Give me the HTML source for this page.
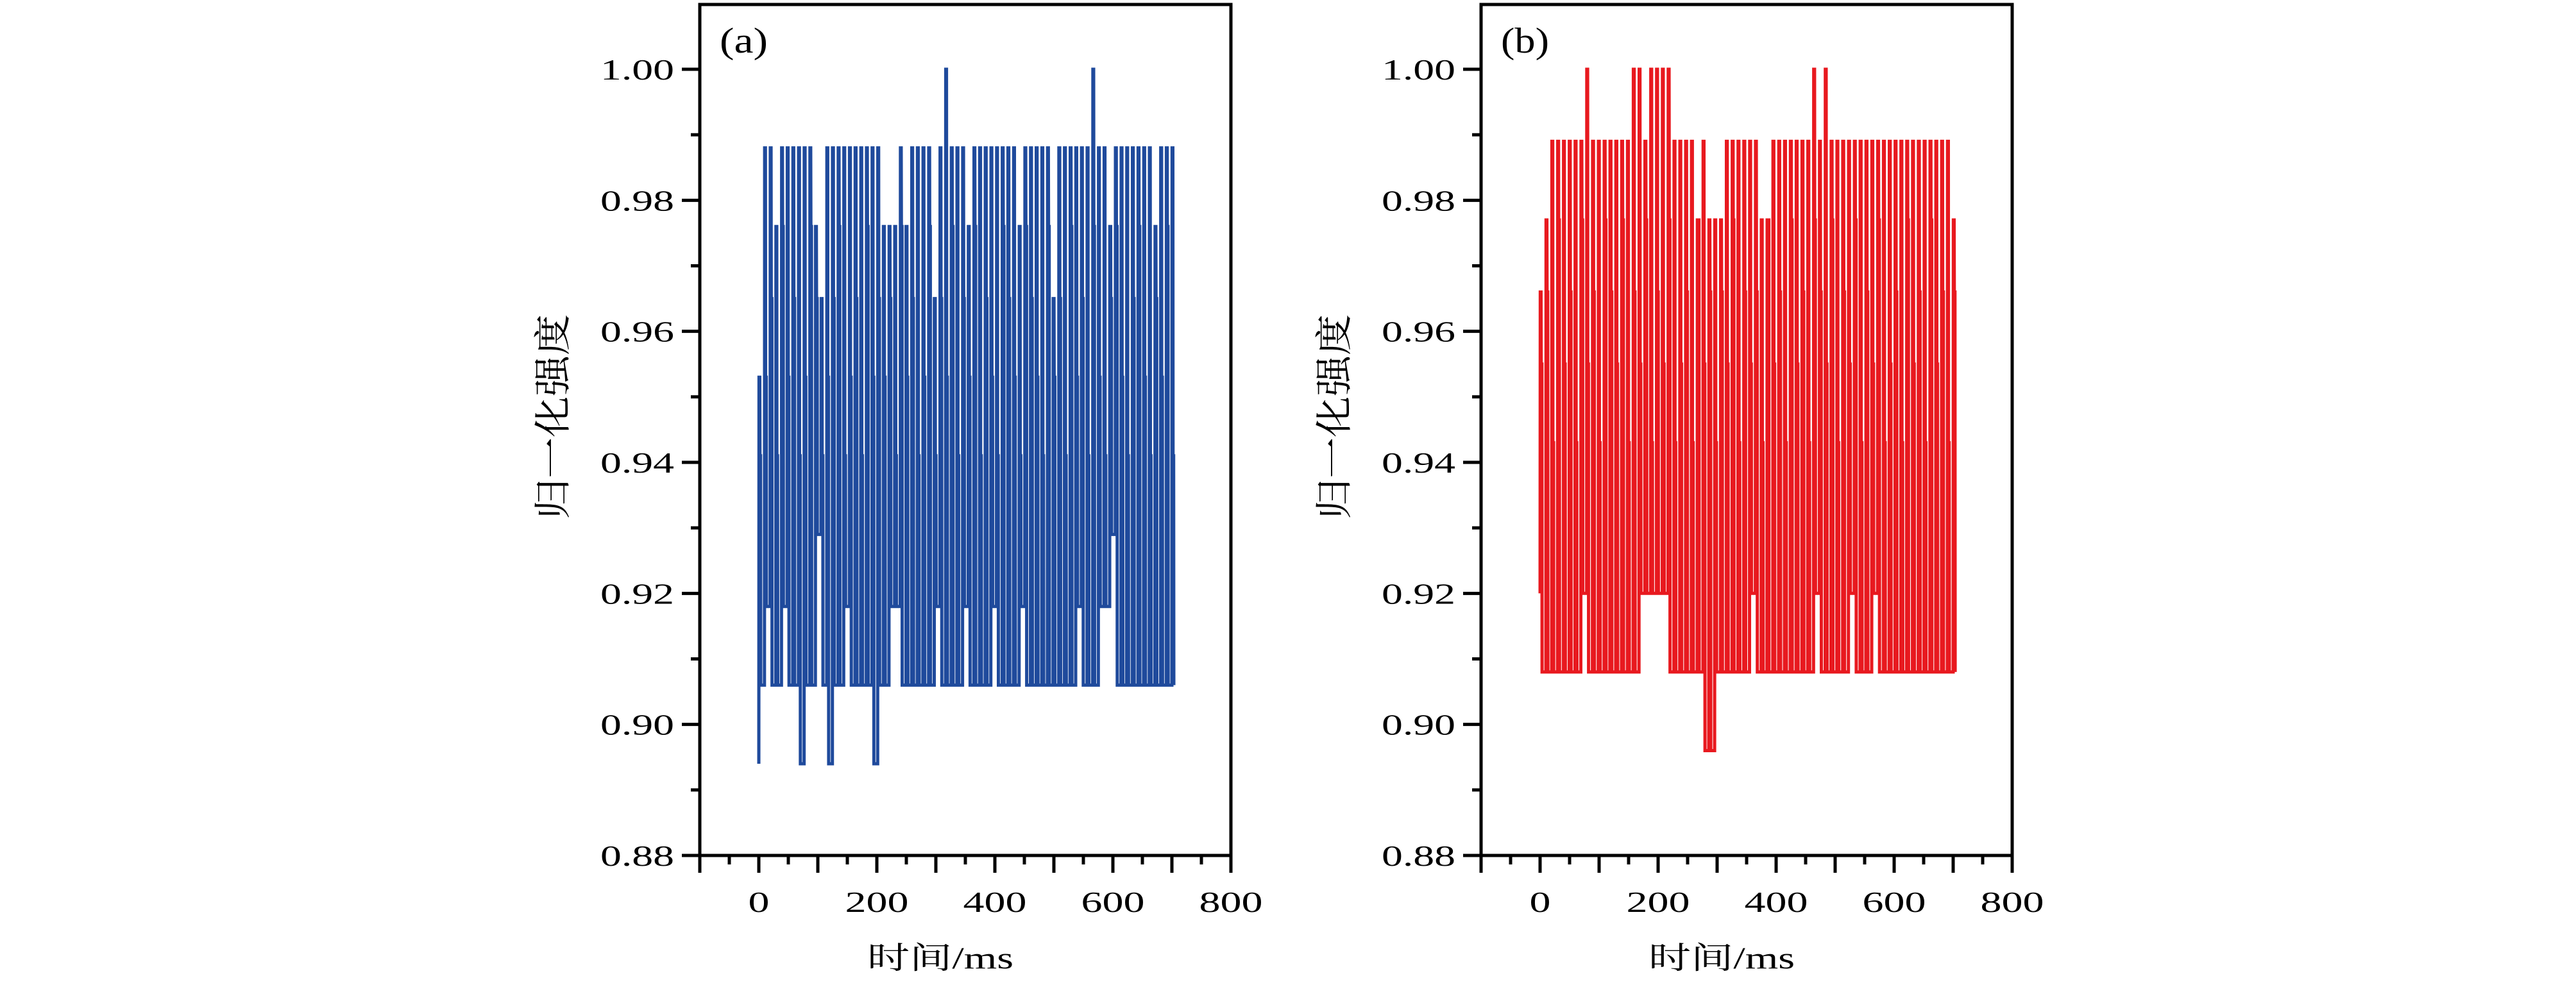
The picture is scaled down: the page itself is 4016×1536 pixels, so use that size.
<!DOCTYPE html>
<html><head><meta charset="utf-8"><style>
html,body{margin:0;padding:0;background:#fff;}
svg{display:block;}
text{font-family:"Liberation Serif","Noto Serif CJK SC",serif;fill:#000;}
</style></head><body>
<svg id="chart" width="4016" height="1536" viewBox="0 0 4016 1536" xmlns="http://www.w3.org/2000/svg"></svg>
<script>
const xTicks = [-100,0,100,200,300,400,500,600,700,800];
const xTickLabels = ["0","200","400","600","800"];
const xTickLabelVals = [0,200,400,600,800];
const yTicks = [0.88,0.90,0.92,0.94,0.96,0.98,1.00];
const yTickLabels = ["0.88","0.90","0.92","0.94","0.96","0.98","1.00"];
const peaksA = [0.953,0.988,0.988,0.976,0.988,0.988,0.988,0.988,0.988,0.988,0.976,
 0.965,0.988,0.988,0.988,0.988,0.988,0.988,0.988,0.988,0.988,0.988,
 0.976,0.976,0.976,0.988,0.976,0.988,0.988,0.988,0.988,0.965,0.988,
 1.000,0.988,0.988,0.988,0.976,0.988,0.988,0.988,0.988,0.988,0.988,
 0.988,0.988,0.976,0.988,0.988,0.988,0.988,0.988,0.965,0.988,0.988,
 0.988,0.988,0.988,0.988,1.000,0.988,0.988,0.976,0.988,0.988,0.988,
 0.988,0.988,0.988,0.988,0.976,0.988,0.988,0.988];
const midsA = [0.941,0.953,0.965,0.941,0.976,0.953,0.965,0.941,0.953,0.976,0.965,
 0.941,0.953,0.965,0.976,0.941,0.953,0.965,0.941,0.976,0.953,0.965,
 0.953,0.965,0.941,0.976,0.953,0.965,0.941,0.953,0.976,0.941,0.965,
 0.953,0.976,0.941,0.965,0.953,0.976,0.941,0.965,0.953,0.941,0.976,
 0.965,0.953,0.941,0.976,0.965,0.953,0.941,0.976,0.953,0.965,0.941,
 0.976,0.953,0.965,0.941,0.976,0.953,0.941,0.965,0.976,0.953,0.941,
 0.965,0.976,0.953,0.941,0.965,0.953,0.976,0.941];
const troughsA = [0.894,0.906,0.918,0.906,0.906,0.918,0.906,0.906,0.894,0.906,0.906,
 0.929,0.906,0.894,0.906,0.906,0.918,0.906,0.906,0.906,0.906,0.894,
 0.906,0.906,0.918,0.918,0.906,0.906,0.906,0.906,0.906,0.906,0.918,
 0.906,0.906,0.906,0.906,0.918,0.906,0.906,0.906,0.906,0.918,0.906,
 0.906,0.906,0.906,0.918,0.906,0.906,0.906,0.906,0.906,0.906,0.906,
 0.906,0.906,0.918,0.906,0.906,0.906,0.918,0.918,0.929,0.906,0.906,
 0.906,0.906,0.906,0.906,0.906,0.906,0.906,0.906];
const peaksB = [0.966,0.977,0.989,0.989,0.989,0.989,0.989,0.989,1.000,0.989,0.989,0.989,
 0.989,0.989,0.989,0.989,1.000,1.000,0.989,1.000,1.000,1.000,1.000,0.989,
 0.989,0.989,0.989,0.977,0.989,0.977,0.977,0.977,0.989,0.989,0.989,0.989,
 0.989,0.989,0.977,0.977,0.989,0.989,0.989,0.989,0.989,0.989,0.989,1.000,
 0.989,1.000,0.989,0.989,0.989,0.989,0.989,0.989,0.989,0.989,0.989,0.989,
 0.989,0.989,0.989,0.989,0.989,0.989,0.989,0.989,0.989,0.989,0.989,0.977];
const midsB = [0.955,0.966,0.943,0.977,0.955,0.966,0.943,0.977,0.955,0.966,0.943,0.977,
 0.966,0.955,0.977,0.943,0.966,0.955,0.977,0.943,0.966,0.955,0.977,0.943,
 0.955,0.966,0.943,0.977,0.955,0.966,0.943,0.966,0.955,0.977,0.943,0.966,
 0.955,0.966,0.943,0.977,0.955,0.966,0.943,0.977,0.955,0.966,0.943,0.977,
 0.966,0.955,0.977,0.943,0.966,0.955,0.977,0.943,0.966,0.955,0.977,0.943,
 0.955,0.966,0.943,0.977,0.955,0.966,0.943,0.977,0.955,0.966,0.943,0.966];
const troughsB = [0.920,0.908,0.908,0.908,0.908,0.908,0.908,0.908,0.920,0.908,0.908,0.908,
 0.908,0.908,0.908,0.908,0.908,0.908,0.920,0.920,0.920,0.920,0.920,0.908,
 0.908,0.908,0.908,0.908,0.908,0.896,0.896,0.908,0.908,0.908,0.908,0.908,
 0.908,0.920,0.908,0.908,0.908,0.908,0.908,0.908,0.908,0.908,0.908,0.908,
 0.920,0.908,0.908,0.908,0.908,0.908,0.920,0.908,0.908,0.908,0.920,0.908,
 0.908,0.908,0.908,0.908,0.908,0.908,0.908,0.908,0.908,0.908,0.908,0.908];
const tStart = 0, tEnd = 700;

const NS = "http://www.w3.org/2000/svg";
const svg = document.getElementById('chart');
function mk(tag, attrs, parent){const e=document.createElementNS(NS,tag);for(const k in attrs)e.setAttribute(k,attrs[k]);(parent||svg).appendChild(e);return e;}

function panel(ox, label, peaks, mids, troughs, color, key){
  const g = mk('g',{});
  
  
  const L = ox, R = ox+828, T = 7, B = 1334;
  const xs = v => L + (v + 100) * 92 / 100;
  const ys = v => B - (v - 0.88) * (B - 108) / 0.12;
  const n = Math.min(peaks.length, troughs.length, mids.length);
  const dt = (tEnd - tStart) / (n - 1);
  let d = '';
  const P = (t, v, first) => (first ? 'M' : 'L') + xs(t).toFixed(1) + ' ' + ys(v).toFixed(1);
  for (let i = 0; i < n; i++) {
    const t = tStart + i * dt;
    const nt = i + 1 < n ? troughs[i + 1] : troughs[i];
    d += P(t, troughs[i], i === 0);
    d += P(t + dt * 0.03, peaks[i]);
    d += P(t + dt * 0.17, peaks[i]);
    d += P(t + dt * 0.20, mids[i]);
    d += P(t + dt * 0.31, mids[i]);
    d += P(t + dt * 0.34, nt);
    if (i + 1 < n) d += P(t + dt, nt);
  }
  const p = mk('path',{d:d, fill:'none', stroke:color, 'stroke-width':5, 'stroke-linejoin':'miter'}, g);
  
  
  const fr = mk('rect',{x:L,y:T,width:R-L,height:B-T,fill:'none',stroke:'#000','stroke-width':5}, g);
  
  
  for (const v of xTicks) {
    const tk = mk('line',{x1:xs(v),x2:xs(v),y1:B,y2:B+27,stroke:'#000','stroke-width':5}, g);
    
    
    if (v < 800) {
      const mt = mk('line',{x1:xs(v+50),x2:xs(v+50),y1:B,y2:B+14,stroke:'#000','stroke-width':5}, g);
      
      
    }
  }
  xTickLabelVals.forEach((v, i) => {
    const s = xTickLabels[i];
    const tx = mk('text',{x:xs(v),y:1422,'font-size':46,'text-anchor':'middle',textLength:s.length*33,lengthAdjust:'spacingAndGlyphs'}, g);
    tx.textContent = s;
    
    
  });
  yTicks.forEach((v, i) => {
    const tk = mk('line',{x1:L-28,x2:L,y1:ys(v),y2:ys(v),stroke:'#000','stroke-width':5}, g);
    
    
    if (i < yTicks.length - 1) {
      const mt = mk('line',{x1:L-14,x2:L,y1:ys(v+0.01),y2:ys(v+0.01),stroke:'#000','stroke-width':5}, g);
      
      
    }
    const tx = mk('text',{x:L-40,y:ys(v)+16,'font-size':46,'text-anchor':'end',textLength:115,lengthAdjust:'spacingAndGlyphs'}, g);
    tx.textContent = yTickLabels[i];
    
    
  });
  const xt = mk('text',{x:L+375,y:1510,'font-size':48,'text-anchor':'middle',textLength:228,lengthAdjust:'spacingAndGlyphs'}, g);
  xt.textContent = '时间/ms';
  
  
  const yt = mk('text',{x:0,y:0,'font-size':58,'text-anchor':'middle',textLength:320,lengthAdjust:'spacingAndGlyphs',transform:`translate(${L-209},650) rotate(-90)`}, g);
  yt.textContent = '归一化强度';
  
  
  const pl = mk('text',{x:L+31,y:82,'font-size':56,textLength:75,lengthAdjust:'spacingAndGlyphs'}, g);
  pl.textContent = label;
  
  
}
panel(1091, '(a)', peaksA, midsA, troughsA, '#1f4a9c', 'a');
panel(2309, '(b)', peaksB, midsB, troughsB, '#e8191f', 'b');
</script>
</body></html>
